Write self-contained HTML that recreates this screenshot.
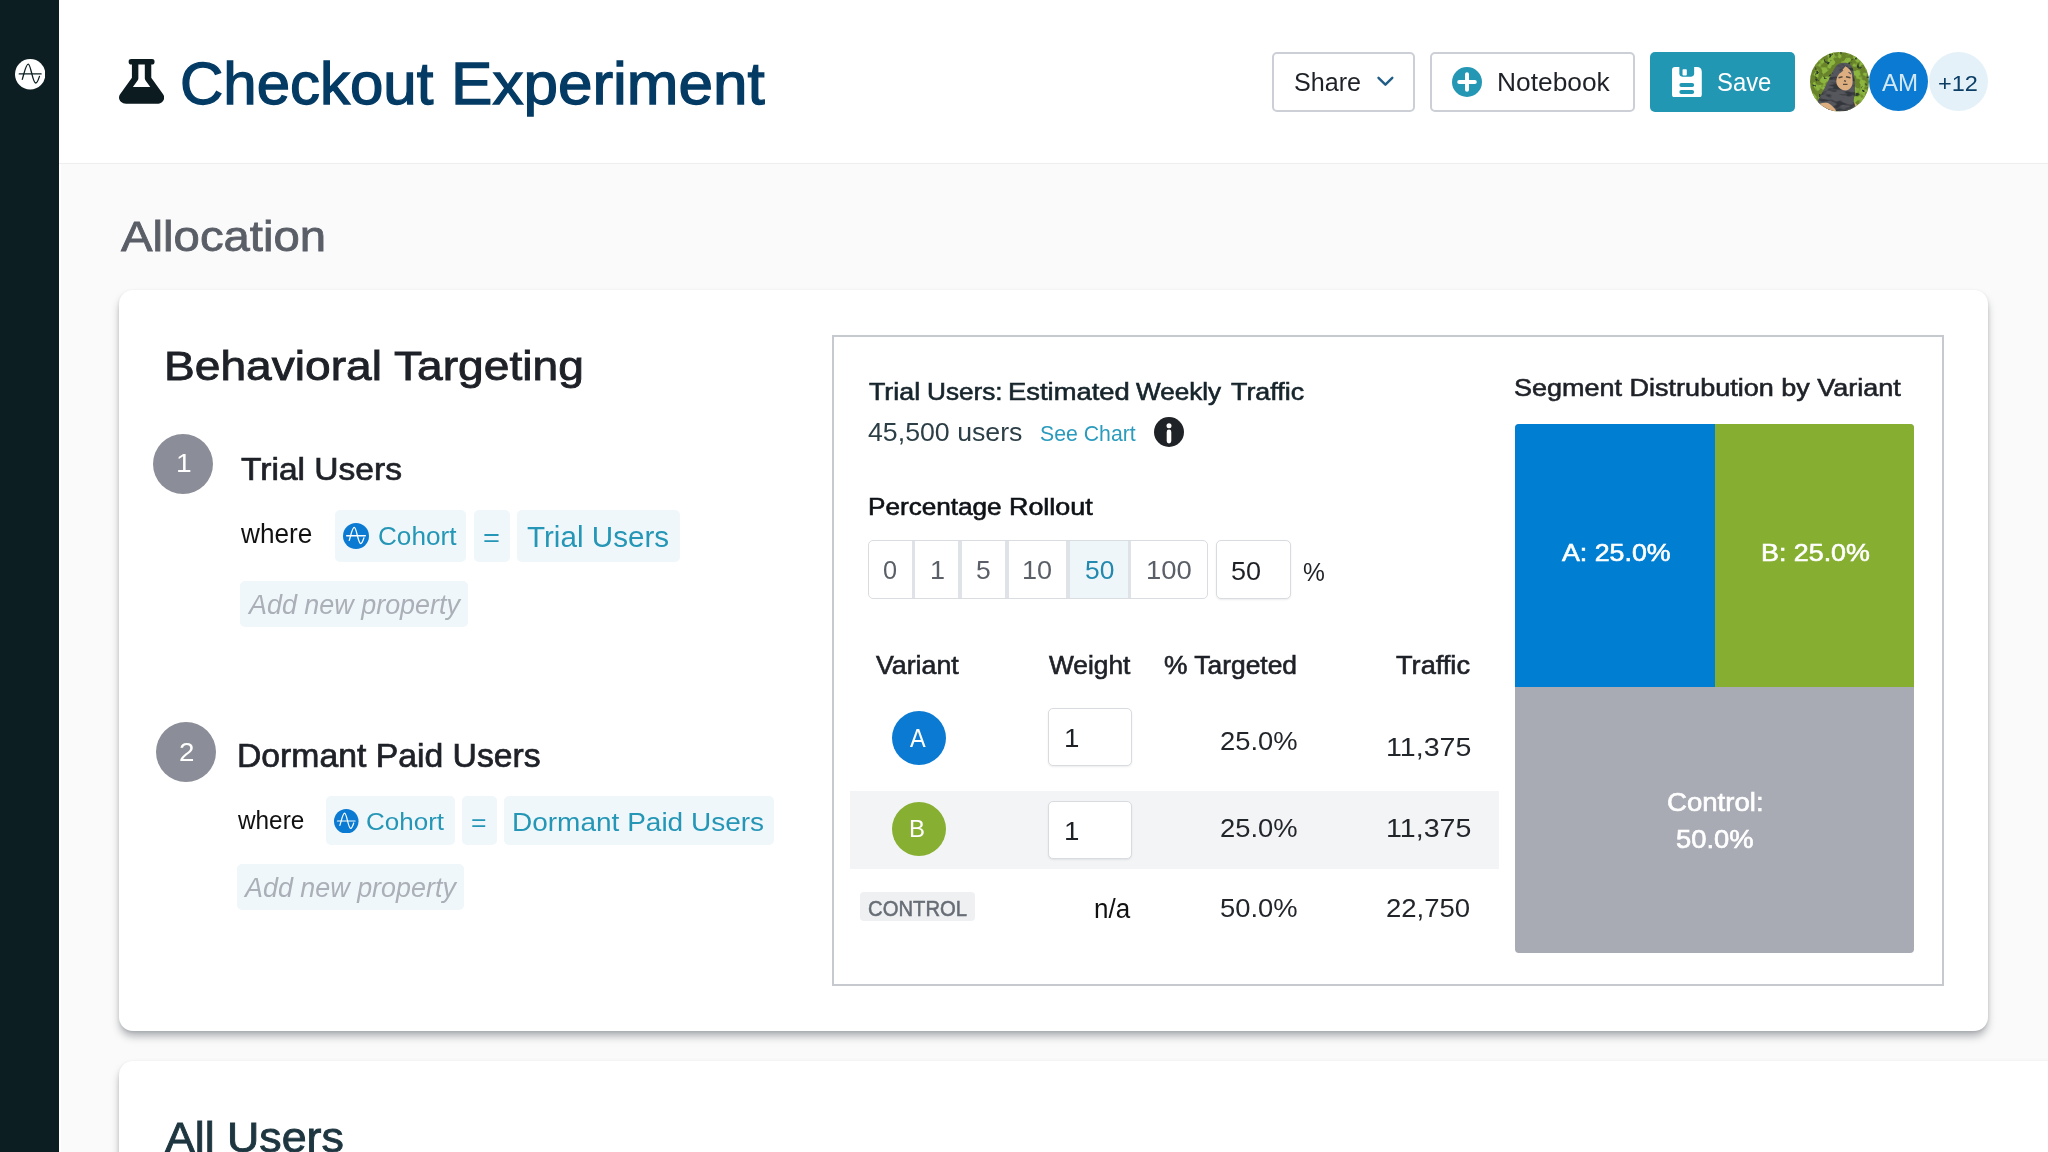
<!DOCTYPE html>
<html lang="en">
<head>
<meta charset="utf-8">
<title>Checkout Experiment</title>
<style>
*{box-sizing:border-box;margin:0;padding:0}
html,body{width:2048px;height:1152px;overflow:hidden;background:#fafafa}
body{position:relative;font-family:"Liberation Sans","DejaVu Sans",sans-serif;color:#1e2127}
.a{position:absolute}
.t{position:absolute;white-space:nowrap;line-height:1;transform-origin:0 0;display:block}
.sidebar{left:0;top:0;width:59.400px;height:1152px;background:#0c1e22}
.header{left:59px;top:0;width:1989px;height:164px;background:#fff;border-bottom:1px solid #eceeef}
.btn{top:52px;height:59.5px;border:2px solid #ccd0d6;border-radius:5px;background:#fff}
.save{left:1649.6px;top:52px;width:145.4px;height:59.5px;border-radius:5px;background:#2197b4}
.av{top:52.200px;width:59.200px;height:59.200px;border-radius:50%}
.card{background:#fff;border-radius:14px;box-shadow:0 6px 9px -1px rgba(30,40,50,.36),0 1px 3px rgba(30,40,50,.10)}
.num{width:60px;height:60px;border-radius:50%;background:#8b8e98}
.chip{background:#eff7fa;border-radius:5px}
.panel{left:832px;top:335px;width:1112px;height:651px;border:2px solid #c6cacf;background:#fff}
.seg{top:540px;height:59px;border:1.700px solid #d9dde1;background:#fff}
.sd{top:0;width:3.800px;height:59px;background:#dfe2e6}
.inp{border:1.800px solid #d8dce0;border-radius:5px;background:#fff;box-shadow:0 1px 2px rgba(0,0,0,.08)}
.vc{width:54px;height:54px;border-radius:50%}
</style>
</head>
<body>
<div class="a" style="left:59px;top:0;width:2.300px;height:1152px;background:#fff"></div>
<div class="a sidebar"></div>
<div class="a header"></div>

<!-- sidebar logo -->
<svg class="a" style="left:14.600px;top:59.200px" width="30.400" height="30.400" viewBox="0 0 100 100">
<circle cx="50" cy="50" r="50" fill="#fff"/>
<path d="M14 49H86" stroke="#0c1e22" stroke-width="4.2" stroke-linecap="round" fill="none"/>
<path d="M24 67C31 44 36 17 43.5 17C52 17 58 79 68 79C73.500 79 77 68 80.500 57" stroke="#0c1e22" stroke-width="4.2" stroke-linecap="round" fill="none"/>
</svg>

<!-- flask -->
<svg class="a" style="left:119px;top:59.3px" width="45.200" height="44.700" viewBox="0 0 448 512" preserveAspectRatio="none">
<path fill="#0c1b20" d="M437.200 403.500L320 215V64h8c13.300 0 24-10.700 24-24V24c0-13.300-10.700-24-24-24H120c-13.300 0-24 10.700-24 24v16c0 13.300 10.700 24 24 24h8v151L10.800 403.500C-18.500 450.600 15.300 512 70.900 512h306.200c55.700 0 89.400-61.500 60.100-108.500zM137.900 320l48.200-77.600c3.700-5.200 5.800-11.600 5.800-18.400V64h64v160c0 6.900 2.200 13.200 5.800 18.400l48.200 77.600h-172z"/>
</svg>

<!-- header buttons -->
<div class="a btn" style="left:1271.500px;width:143.500px"></div>
<svg class="a" style="left:1375px;top:74px" width="21" height="15" viewBox="0 0 21 15"><path d="M3.500 3.800L10.400 10.700L17.300 3.800" fill="none" stroke="#1f5d87" stroke-width="2.400" stroke-linecap="round" stroke-linejoin="round"/></svg>
<div class="a btn" style="left:1429.500px;width:205.500px"></div>
<svg class="a" style="left:1452.300px;top:66.800px" width="30" height="30" viewBox="0 0 30 30"><circle cx="15" cy="15" r="15" fill="#2497b5"/><path d="M15 7.200V22.800M7.200 15H22.800" stroke="#fff" stroke-width="4" stroke-linecap="round"/></svg>
<div class="a save"></div>
<svg class="a" style="left:1671.800px;top:66.700px" width="29.800" height="30.500" viewBox="0 0 30 30" preserveAspectRatio="none">
<path fill="#fff" d="M3 0H25Q30 0 30 5V27Q30 30 27 30H3Q0 30 0 27V3Q0 0 3 0Z"/>
<path fill="#2197b4" d="M7.400 0H22.300V6.500Q22.300 9.500 19.300 9.500H10.400Q7.400 9.500 7.400 6.500Z"/>
<rect x="10.600" y="2.100" width="4.300" height="6.200" rx="0.800" fill="#fff"/>
<rect x="7.400" y="15.700" width="14.900" height="4" rx="2" fill="#2197b4"/>
<rect x="7.400" y="22.600" width="14.900" height="4" rx="2" fill="#2197b4"/>
</svg>

<!-- avatars -->
<svg class="a" style="left:1809.700px;top:52.200px" width="59" height="59.400" viewBox="0 0 59 59" preserveAspectRatio="none">
<defs>
<clipPath id="cp"><circle cx="29.500" cy="29.500" r="29.500"/></clipPath>
<filter id="fl" color-interpolation-filters="sRGB" x="0" y="0" width="100%" height="100%"><feTurbulence type="fractalNoise" baseFrequency="0.160" numOctaves="2" seed="4"/><feColorMatrix type="matrix" values="0 0 0 0 0.545  0 0 0 0 0.710  0 0 0 0 0.247  7 0 0 0 -3.100"/></filter>
<filter id="fd" color-interpolation-filters="sRGB" x="0" y="0" width="100%" height="100%"><feTurbulence type="fractalNoise" baseFrequency="0.220" numOctaves="2" seed="11"/><feColorMatrix type="matrix" values="0 0 0 0 0.180  0 0 0 0 0.240  0 0 0 0 0.160  0 9 0 0 -5.700"/></filter>
<filter id="fh" color-interpolation-filters="sRGB" x="0" y="0" width="100%" height="100%"><feTurbulence type="fractalNoise" baseFrequency="0.090 0.200" numOctaves="2" seed="7"/><feColorMatrix type="matrix" values="0 0 0 0 0.200  0 0 0 0 0.210  0 0 0 0 0.230  6 0 0 0 -2.900"/></filter>
</defs>
<g clip-path="url(#cp)">
<rect width="59" height="59" fill="#68832a"/>
<rect width="59" height="59" filter="url(#fl)"/>
<rect width="59" height="59" filter="url(#fd)"/>
<path d="M7.600 49.300C10 44 12 41 14 37C16 33 18 29 20 25C22 21 24 15 28 12.300C31 10.300 36 10 39.500 12C42.500 14 43.500 18 44 22C44.600 27 45 33 45 38.900C45 43 43.500 46 43.750 49.300C44 52 45 53.500 45.800 54.900L43 59H14Z" fill="#55575c"/>
<clipPath id="ch"><path d="M7.600 49.300C10 44 12 41 14 37C16 33 18 29 20 25C22 21 24 15 28 12.300C31 10.300 36 10 39.500 12C42.500 14 43.500 18 44 22C44.600 27 45 33 45 38.900C45 43 43.500 46 43.750 49.300C44 52 45 53.500 45.800 54.900L43 59H14Z"/></clipPath>
<g clip-path="url(#ch)"><rect width="59" height="59" filter="url(#fh)"/></g>
<path d="M35.400 14.200C37.500 15.500 39.800 17 40.800 19C42.200 22 42.800 26 42.600 30C42.400 34.500 39.500 38.200 35.500 38.200C31.500 38.200 27.800 35 26.600 31.500C25.800 28.500 26.600 25 28.600 22.500C30.600 20 33 17 35.400 14.200Z" fill="#dcae80"/>
<path d="M9.700 51.400C12.500 50.400 15.500 50.300 18 50.700C22 53 25 56 26.400 59H16C13 57 11 54 9.700 51.400Z" fill="#dcae80"/>
<path d="M44.400 50L48 53.500L46 56Z" fill="#dcae80"/>
<path d="M28.500 25.600L32.500 24.600M36 24.600L40.500 25.600M33 32.200L37.500 32.200M34 28.500L36 29.200" stroke="#55483a" stroke-width="1.400" fill="none"/>
<path d="M30 20.500L33 18M38.500 20L41 22" stroke="#55575c" stroke-width="1.200" fill="none"/>
</g>
</svg>
<div class="a av" style="left:1869.200px;background:#0a7ad2"></div>
<div class="a av" style="left:1929.100px;background:#e4f1f9"></div>

<!-- card 1 -->
<div class="a card" style="left:119px;top:290.300px;width:1869px;height:740.300px"></div>
<!-- card 2 -->
<div class="a card" style="left:119px;top:1060.500px;width:1940px;height:200px;border-radius:14px 0 0 0"></div>

<!-- group 1 -->
<div class="a num" style="left:153.400px;top:434.400px"></div>
<div class="a chip" style="left:335px;top:510.200px;width:131.300px;height:51.400px"></div>
<div class="a chip" style="left:474px;top:510.200px;width:35.700px;height:51.400px"></div>
<div class="a chip" style="left:517px;top:510.200px;width:162.800px;height:51.400px"></div>
<div class="a chip" style="left:240.200px;top:581px;width:227.900px;height:46px"></div>
<svg class="a" style="left:343px;top:523px" width="26" height="26" viewBox="0 0 100 100">
<circle cx="50" cy="50" r="50" fill="#0a7ad2"/>
<path d="M14 49H86" stroke="#fff" stroke-width="5" stroke-linecap="round" fill="none"/>
<path d="M24 67C31 44 36 17 43.500 17C52 17 58 79 68 79C73.500 79 77 68 80.500 57" stroke="#fff" stroke-width="5" stroke-linecap="round" fill="none"/>
</svg>

<!-- group 2 -->
<div class="a num" style="left:156.100px;top:722px"></div>
<div class="a chip" style="left:326px;top:796.400px;width:128.800px;height:48.400px"></div>
<div class="a chip" style="left:462px;top:796.400px;width:35px;height:48.400px"></div>
<div class="a chip" style="left:504.200px;top:796.400px;width:269.800px;height:48.400px"></div>
<div class="a chip" style="left:237px;top:863.800px;width:227.200px;height:46.200px"></div>
<svg class="a" style="left:334px;top:808.500px" width="24.500" height="24.500" viewBox="0 0 100 100">
<circle cx="50" cy="50" r="50" fill="#0a7ad2"/>
<path d="M14 49H86" stroke="#fff" stroke-width="5" stroke-linecap="round" fill="none"/>
<path d="M24 67C31 44 36 17 43.500 17C52 17 58 79 68 79C73.500 79 77 68 80.500 57" stroke="#fff" stroke-width="5" stroke-linecap="round" fill="none"/>
</svg>

<!-- panel -->
<div class="a panel"></div>
<svg class="a" style="left:1154.200px;top:416.700px" width="30" height="30" viewBox="0 0 30 30"><circle cx="15" cy="15" r="15" fill="#1f2226"/><circle cx="15" cy="8.800" r="2.500" fill="#fff"/><rect x="12.700" y="12.600" width="4.600" height="13.800" rx="2.300" fill="#fff"/></svg>

<!-- rollout buttons -->
<div class="a seg" style="left:867.800px;width:340.400px;border-radius:5px;overflow:hidden">
<div class="a" style="left:199.500px;top:0;width:61.500px;height:59px;background:#eef6f9"></div>
<div class="a sd" style="left:42.900px"></div>
<div class="a sd" style="left:89.500px"></div>
<div class="a sd" style="left:136.400px"></div>
<div class="a sd" style="left:197.400px"></div>
<div class="a sd" style="left:258.900px"></div>
</div>
<div class="a inp" style="left:1215.500px;top:540px;width:75.200px;height:59px"></div>

<!-- table -->
<div class="a" style="left:850.400px;top:791.200px;width:648.600px;height:78px;background:#f3f4f6"></div>
<div class="a vc" style="left:891.700px;top:710.600px;background:#0a7ad2"></div>
<div class="a vc" style="left:891.700px;top:802px;background:#87af31"></div>
<div class="a inp" style="left:1047.600px;top:707.500px;width:84.800px;height:58.200px"></div>
<div class="a inp" style="left:1047.600px;top:800.700px;width:84.800px;height:58.200px"></div>
<div class="a" style="left:860.200px;top:891.700px;width:115.200px;height:29.500px;background:#eff0f2;border-radius:4px"></div>

<!-- chart -->
<div class="a" style="left:1515.400px;top:424px;width:398.700px;height:529px;border-radius:4px;background:#a8abb4;overflow:hidden">
<div class="a" style="left:0;top:0;width:199.300px;height:262.500px;background:#007fd2"></div>
<div class="a" style="left:199.300px;top:0;width:199.400px;height:262.500px;background:#86ae31"></div>
</div>

<span class="t" style="left:179.81px;top:55.00px;font-size:59px;color:#043b64;transform:scaleX(1.0163);-webkit-text-stroke:1.3px #043b64;">Checkout</span>
<span class="t" style="left:450.98px;top:55.00px;font-size:59px;color:#043b64;transform:scaleX(1.0514);-webkit-text-stroke:1.3px #043b64;">Experiment</span>
<span class="t" style="left:1293.82px;top:70.00px;font-size:25.7px;color:#1e2127;transform:scaleX(0.9783);">Share</span>
<span class="t" style="left:1496.65px;top:70.00px;font-size:25.7px;color:#1e2127;transform:scaleX(1.0257);">Notebook</span>
<span class="t" style="left:1717.17px;top:70.00px;font-size:25.7px;color:#ffffff;transform:scaleX(0.9290);">Save</span>
<span class="t" style="left:1882.20px;top:71.00px;font-size:24px;color:#d3e8f6;transform:scaleX(1.0026);">AM</span>
<span class="t" style="left:1937.71px;top:74.00px;font-size:21.5px;color:#0c3e66;transform:scaleX(1.0923);">+12</span>
<span class="t" style="left:120.75px;top:216.00px;font-size:42.3px;color:#5a5e67;transform:scaleX(1.1185);-webkit-text-stroke:0.8px #5a5e67;">Allocation</span>
<span class="t" style="left:163.66px;top:345.00px;font-size:41.5px;color:#1e2127;transform:scaleX(1.1118);-webkit-text-stroke:0.9px #1e2127;">Behavioral Targeting</span>
<span class="t" style="left:175.99px;top:451.00px;font-size:25.4px;color:#ffffff;transform:scaleX(1.1083);">1</span>
<span class="t" style="left:241.19px;top:454.00px;font-size:30.5px;color:#1e2127;transform:scaleX(1.1006);-webkit-text-stroke:0.7px #1e2127;">Trial Users</span>
<span class="t" style="left:240.92px;top:519.00px;font-size:28.3px;color:#111111;transform:scaleX(0.9246);">where</span>
<span class="t" style="left:377.68px;top:524.00px;font-size:25.6px;color:#2596b6;transform:scaleX(1.0210);">Cohort</span>
<span class="t" style="left:482.98px;top:524.00px;font-size:26px;color:#2596b6;transform:scaleX(1.1154);">=</span>
<span class="t" style="left:526.50px;top:523.00px;font-size:29.2px;color:#2596b6;transform:scaleX(1.0151);">Trial Users</span>
<span class="t" style="left:248.88px;top:591.00px;font-size:27.2px;color:#abafb7;transform:scaleX(0.9898);font-style:italic;">Add new property</span>
<span class="t" style="left:178.51px;top:740.00px;font-size:25.4px;color:#ffffff;transform:scaleX(1.0917);">2</span>
<span class="t" style="left:236.89px;top:740.00px;font-size:32.5px;color:#1e2127;transform:scaleX(1.0376);-webkit-text-stroke:0.7px #1e2127;">Dormant Paid Users</span>
<span class="t" style="left:238.32px;top:807.00px;font-size:26.4px;color:#111111;transform:scaleX(0.9224);">where</span>
<span class="t" style="left:366.44px;top:810.00px;font-size:24.6px;color:#2596b6;transform:scaleX(1.0578);">Cohort</span>
<span class="t" style="left:470.52px;top:811.00px;font-size:24.5px;color:#2596b6;transform:scaleX(1.0846);">=</span>
<span class="t" style="left:512.01px;top:810.00px;font-size:25.6px;color:#2596b6;transform:scaleX(1.0939);">Dormant Paid Users</span>
<span class="t" style="left:245.48px;top:874.00px;font-size:27.2px;color:#abafb7;transform:scaleX(0.9894);font-style:italic;">Add new property</span>
<span class="t" style="left:868.73px;top:380.00px;font-size:24.4px;color:#16242b;transform:scaleX(1.0985);-webkit-text-stroke:0.6px #16242b;">Trial</span>
<span class="t" style="left:926.65px;top:380.00px;font-size:24.4px;color:#16242b;transform:scaleX(1.0733);-webkit-text-stroke:0.6px #16242b;">Users:</span>
<span class="t" style="left:1007.89px;top:380.00px;font-size:24.4px;color:#16242b;transform:scaleX(1.1225);-webkit-text-stroke:0.6px #16242b;">Estimated</span>
<span class="t" style="left:1136.42px;top:380.00px;font-size:24.4px;color:#16242b;transform:scaleX(1.0689);-webkit-text-stroke:0.6px #16242b;">Weekly</span>
<span class="t" style="left:1231.43px;top:380.00px;font-size:24.4px;color:#16242b;transform:scaleX(1.1001);-webkit-text-stroke:0.6px #16242b;">Traffic</span>
<span class="t" style="left:868.40px;top:420.00px;font-size:25.5px;color:#2c3e46;transform:scaleX(1.0478);">45,500 users</span>
<span class="t" style="left:1039.70px;top:423.00px;font-size:21.8px;color:#2a9bbd;transform:scaleX(0.9757);">See Chart</span>
<span class="t" style="left:868.04px;top:495.00px;font-size:24px;color:#0e1216;transform:scaleX(1.0885);-webkit-text-stroke:0.6px #0e1216;">Percentage</span>
<span class="t" style="left:1009.02px;top:495.00px;font-size:24px;color:#0e1216;transform:scaleX(1.1201);-webkit-text-stroke:0.6px #0e1216;">Rollout</span>
<span class="t" style="left:883.21px;top:558.00px;font-size:25.5px;color:#5b6068;transform:scaleX(0.9923);">0</span>
<span class="t" style="left:930.24px;top:558.00px;font-size:25.5px;color:#5b6068;transform:scaleX(1.0583);">1</span>
<span class="t" style="left:976.36px;top:558.00px;font-size:25.5px;color:#5b6068;transform:scaleX(1.0385);">5</span>
<span class="t" style="left:1022.24px;top:558.00px;font-size:25.5px;color:#5b6068;transform:scaleX(1.0595);">10</span>
<span class="t" style="left:1084.57px;top:558.00px;font-size:25.5px;color:#2389ae;transform:scaleX(1.0338);">50</span>
<span class="t" style="left:1145.52px;top:558.00px;font-size:25.5px;color:#5b6068;transform:scaleX(1.0758);">100</span>
<span class="t" style="left:1231.04px;top:559.00px;font-size:25.5px;color:#1e2126;transform:scaleX(1.0595);">50</span>
<span class="t" style="left:1302.90px;top:560.00px;font-size:25.5px;color:#1e2126;transform:scaleX(0.9636);">%</span>
<span class="t" style="left:876.42px;top:653.00px;font-size:25px;color:#1e2127;transform:scaleX(1.0691);-webkit-text-stroke:0.6px #1e2127;">Variant</span>
<span class="t" style="left:1049.32px;top:653.00px;font-size:25px;color:#1e2127;transform:scaleX(1.0511);-webkit-text-stroke:0.6px #1e2127;">Weight</span>
<span class="t" style="left:1163.72px;top:653.00px;font-size:25px;color:#1e2127;transform:scaleX(1.0558);-webkit-text-stroke:0.6px #1e2127;">% Targeted</span>
<span class="t" style="left:1396.23px;top:653.00px;font-size:25px;color:#1e2127;transform:scaleX(1.0870);-webkit-text-stroke:0.6px #1e2127;">Traffic</span>
<span class="t" style="left:910.30px;top:726.00px;font-size:25.4px;color:#ffffff;transform:scaleX(0.9235);">A</span>
<span class="t" style="left:1063.51px;top:726.00px;font-size:25.4px;color:#1e2126;transform:scaleX(1.0917);">1</span>
<span class="t" style="left:1219.62px;top:729.00px;font-size:25.3px;color:#22262b;transform:scaleX(1.0807);">25.0%</span>
<span class="t" style="left:1385.57px;top:735.00px;font-size:25.3px;color:#22262b;transform:scaleX(1.1304);">11,375</span>
<span class="t" style="left:908.74px;top:817.00px;font-size:24.5px;color:#ffffff;transform:scaleX(0.9786);">B</span>
<span class="t" style="left:1063.51px;top:819.00px;font-size:25.4px;color:#1e2126;transform:scaleX(1.0917);">1</span>
<span class="t" style="left:1219.62px;top:816.00px;font-size:25.3px;color:#22262b;transform:scaleX(1.0807);">25.0%</span>
<span class="t" style="left:1385.57px;top:816.00px;font-size:25.3px;color:#22262b;transform:scaleX(1.1304);">11,375</span>
<span class="t" style="left:868.00px;top:898.00px;font-size:21.6px;color:#676d75;transform:scaleX(0.9385);-webkit-text-stroke:0.5px #676d75;">CONTROL</span>
<span class="t" style="left:1093.94px;top:896.00px;font-size:27px;color:#111111;transform:scaleX(0.9622);">n/a</span>
<span class="t" style="left:1219.62px;top:896.00px;font-size:25.3px;color:#22262b;transform:scaleX(1.0807);">50.0%</span>
<span class="t" style="left:1385.61px;top:896.00px;font-size:25.3px;color:#22262b;transform:scaleX(1.0878);">22,750</span>
<span class="t" style="left:1513.64px;top:376.00px;font-size:24.8px;color:#1e2127;transform:scaleX(1.0892);-webkit-text-stroke:0.6px #1e2127;">Segment Distrubution by Variant</span>
<span class="t" style="left:1562.33px;top:541.00px;font-size:24.2px;color:#ffffff;transform:scaleX(1.1064);-webkit-text-stroke:0.6px #ffffff;">A: 25.0%</span>
<span class="t" style="left:1760.92px;top:541.00px;font-size:24.2px;color:#ffffff;transform:scaleX(1.1095);-webkit-text-stroke:0.6px #ffffff;">B: 25.0%</span>
<span class="t" style="left:1667.33px;top:790.00px;font-size:25px;color:#ffffff;transform:scaleX(1.1034);-webkit-text-stroke:0.6px #ffffff;">Control:</span>
<span class="t" style="left:1676.23px;top:827.00px;font-size:25px;color:#ffffff;transform:scaleX(1.0945);-webkit-text-stroke:0.6px #ffffff;">50.0%</span>
<span class="t" style="left:164.68px;top:1117.00px;font-size:42px;color:#1e3640;transform:scaleX(1.0642);-webkit-text-stroke:0.9px #1e3640;">All Users</span>
</body>
</html>
